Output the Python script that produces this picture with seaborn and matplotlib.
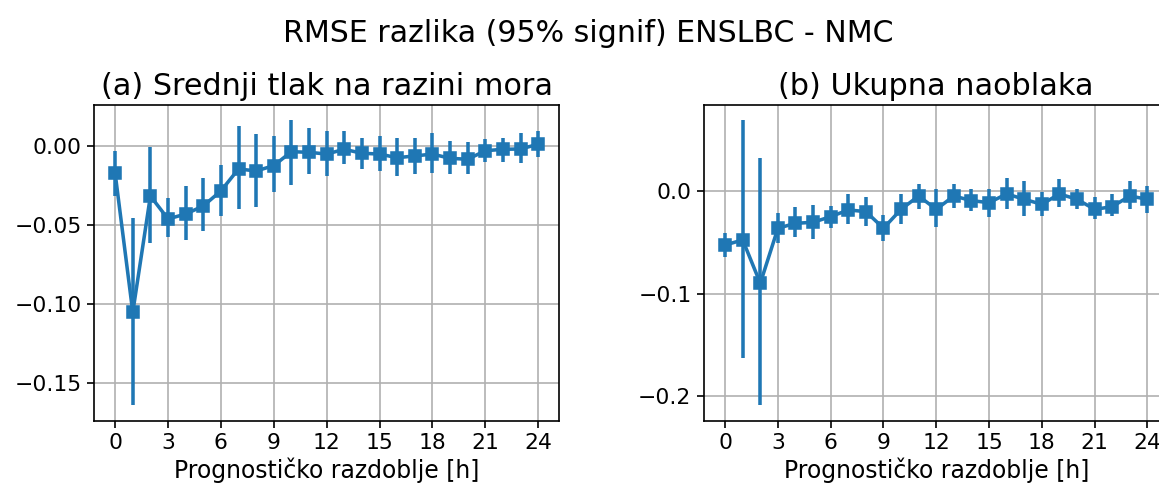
import matplotlib
matplotlib.use("Agg")
import matplotlib.pyplot as plt
import seaborn as sns
import numpy as np
import pandas as pd

hours = list(range(25))

# (a) Srednji tlak na razini mora
a_mean = [-0.0173, -0.1051, -0.0316, -0.0461, -0.0430, -0.0379, -0.0284, -0.0145,
          -0.0158, -0.0124, -0.0036, -0.0040, -0.0051, -0.0021, -0.0046, -0.0051,
          -0.0074, -0.0063, -0.0051, -0.0078, -0.0084, -0.0030, -0.0021, -0.0019, 0.0011]
a_low = [-0.0316, -0.1637, -0.0615, -0.0573, -0.0594, -0.0535, -0.0442, -0.0400,
         -0.0383, -0.0289, -0.0248, -0.0177, -0.0190, -0.0114, -0.0147, -0.0160,
         -0.0188, -0.0177, -0.0169, -0.0177, -0.0177, -0.0099, -0.0099, -0.0105, -0.0068]
a_high = [-0.0030, -0.0457, -0.0008, -0.0327, -0.0253, -0.0202, -0.0120, 0.0126,
          0.0076, 0.0063, 0.0164, 0.0116, 0.0095, 0.0095, 0.0053, 0.0063,
          0.0053, 0.0053, 0.0084, 0.0034, 0.0023, 0.0042, 0.0053, 0.0084, 0.0095]

# (b) Ukupna naoblaka
b_mean = [-0.0526, -0.0477, -0.0899, -0.0363, -0.0315, -0.0305, -0.0250, -0.0185,
          -0.0201, -0.0363, -0.0179, -0.0049, -0.0179, -0.0049, -0.0094, -0.0114,
          -0.0029, -0.0081, -0.0130, -0.0029, -0.0081, -0.0179, -0.0153, -0.0049, -0.0081]
b_low = [-0.0640, -0.1629, -0.2084, -0.0503, -0.0451, -0.0467, -0.0357, -0.0325,
         -0.0341, -0.0484, -0.0325, -0.0179, -0.0354, -0.0169, -0.0192, -0.0250,
         -0.0179, -0.0243, -0.0243, -0.0153, -0.0179, -0.0276, -0.0243, -0.0179, -0.0211]
b_high = [-0.0406, 0.0691, 0.0318, -0.0217, -0.0153, -0.0136, -0.0143, -0.0029,
          -0.0062, -0.0234, -0.0032, 0.0068, 0.0016, 0.0068, 0.0016, 0.0016,
          0.0123, 0.0097, -0.0006, 0.0114, 0.0016, -0.0062, -0.0029, 0.0101, 0.0049]

titles = ["(a) Srednji tlak na razini mora", "(b) Ukupna naoblaka"]
suptitle = "RMSE razlika (95% signif) ENSLBC - NMC"
xlabel = "Prognostičko razdoblje [h]"
xticks = list(range(0, 25, 3))
yticks_a = [-0.15, -0.10, -0.05, 0.00]
yticks_b = [-0.2, -0.1, 0.0]

W, H = 1159, 484
dpi = 150
fig = plt.figure(figsize=(W / dpi, H / dpi), dpi=dpi)
color = "#1f77b4"

axes_px = [(94, 105, 559.3, 420.7), (704, 105, 1168.5, 420.7)]
ylims = [(-0.1736, 0.0259), (-0.2237, 0.0837)]
yticks = [yticks_a, yticks_b]
yfmt = ["{:.2f}", "{:.1f}"]
series = [(a_mean, a_low, a_high), (b_mean, b_low, b_high)]

for i, (l, t, r, b) in enumerate(axes_px):
    ax = fig.add_axes([l / W, 1 - b / H, (r - l) / W, (b - t) / H])
    m, lo, hi = series[i]
    df = pd.DataFrame({"h": hours, "v": m})
    ax.vlines(hours, lo, hi, color=color, lw=1.7, zorder=2)
    sns.lineplot(data=df, x="h", y="v", ax=ax, color=color, marker="s",
                 markersize=5.5, markeredgecolor=color, lw=1.7, zorder=3)
    ax.set_xticks(xticks)
    ax.set_yticks(yticks[i])
    ax.set_yticklabels([yfmt[i].format(v).replace("-", "\u2212") for v in yticks[i]])
    ax.set_xlim(-1.2, 25.2)
    ax.set_ylim(*ylims[i])
    ax.grid(True, color="#b0b0b0", lw=0.8)
    ax.set_axisbelow(True)
    ax.set_title(titles[i], fontsize=14.5, pad=4.8)
    ax.set_xlabel(xlabel, fontsize=11.3, labelpad=2)
    ax.set_ylabel("")
    ax.tick_params(labelsize=10.5, pad=2.5)

fig.text(588 / W, 1 - 42.3 / H, suptitle, ha="center", va="baseline", fontsize=14.4)
fig.savefig("out.png", dpi=dpi)
